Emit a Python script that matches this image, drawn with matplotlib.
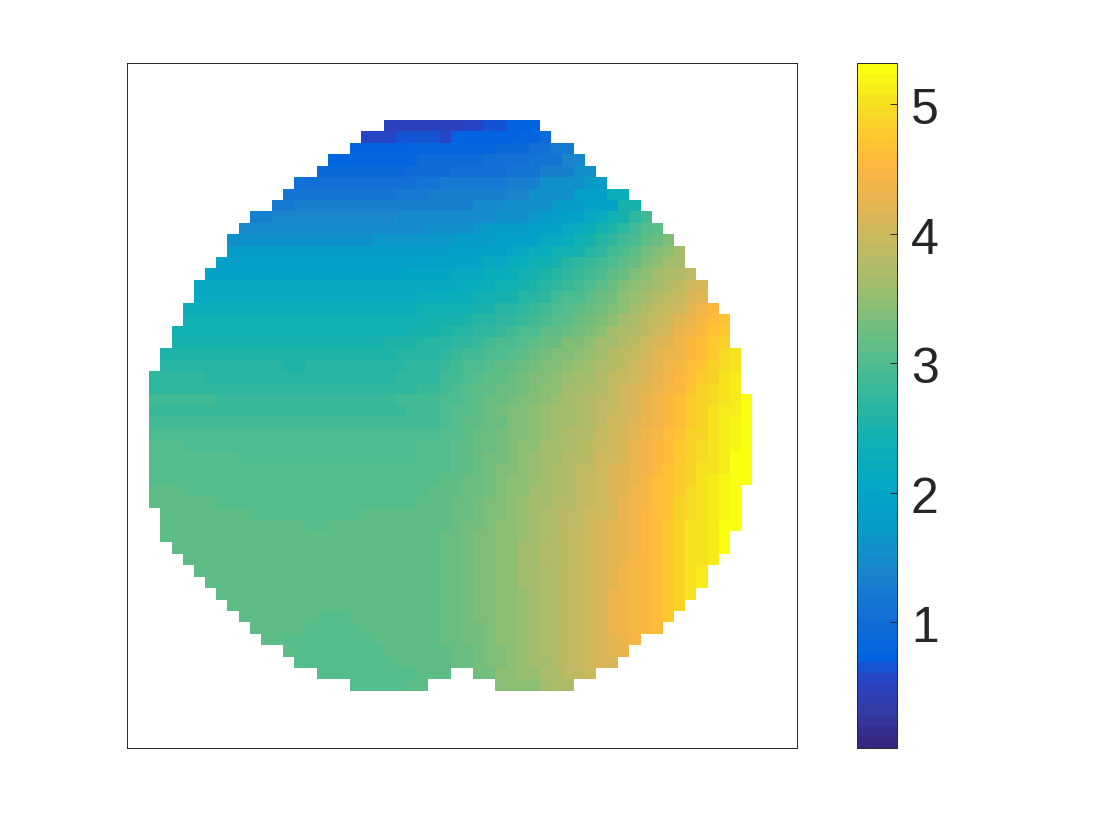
import numpy as np
import matplotlib
matplotlib.use("Agg")
import matplotlib.pyplot as plt
from matplotlib.colors import LinearSegmentedColormap
from matplotlib.transforms import ScaledTranslation

plt.rcParams["font.family"] = ["Liberation Sans", "DejaVu Sans"]

n_cells = 60
vmin = 0.03
vmax = 5.32
cbar_ticks = [1, 2, 3, 4, 5]

# first filled column of rows 5..54, counted from the top of the grid
first_row = 5
row_starts = [
    23, 21, 20, 18, 17, 15, 14, 13, 11, 10,
    9, 9, 8, 7, 6, 6, 5, 5, 4, 4,
    3, 3, 2, 2, 2, 2, 2, 2, 2, 2,
    2, 2, 2, 2, 3, 3, 3, 4, 5, 6,
    7, 8, 9, 10, 11, 12, 14, 15, 17, 20,
]

# each row as (last column of the run, value)
# from row 13 down to row 52 these stop at column 27, right_rows takes over
row_runs = [
    [(27, .45), (29, .5), (31, .6), (33, .65), (36, .75)],
    [(23, .55), (27, .62), (28, .6), (32, .7), (34, .75), (36, .85), (37, 1.0)],
    [(24, .75), (30, .78), (32, .8), (35, .9), (37, 1.05), (39, 1.2)],
    [(19, .8), (25, .85), (29, .95), (31, 1.0), (35, 1.05), (38, 1.15), (40, 1.4)],
    [(24, .9), (28, 1.0), (33, 1.1), (36, 1.15), (39, 1.3), (41, 1.55)],
    [(25, 1.1), (27, 1.15), (30, 1.2), (33, 1.25), (36, 1.35), (40, 1.55), (42, 1.75)],
    [(23, 1.15), (26, 1.25), (33, 1.3), (35, 1.4), (39, 1.6), (42, 1.85), (44, 2.3)],
    [(14, 1.2), (26, 1.3), (30, 1.35), (33, 1.45), (37, 1.55), (40, 1.75), (43, 2.0), (45, 2.45)],
    [(12, 1.35), (23, 1.4), (27, 1.45)],
    [(22, 1.45), (26, 1.5), (27, 1.55)],
    [(12, 1.55), (21, 1.6), (26, 1.65), (27, 1.65)],
    [(25, 1.8), (27, 1.82)],
    [(25, 1.9), (27, 1.95)],
    [(24, 2.0), (27, 2.05)],
    [(25, 2.1), (27, 2.15)],
    [(25, 2.15), (27, 2.2)],
    [(25, 2.3), (27, 2.35)],
    [(23, 2.35), (26, 2.4), (27, 2.45)],
    [(24, 2.42), (27, 2.5)],
    [(5, 2.45), (22, 2.5), (25, 2.55), (27, 2.6)],
    [(23, 2.55), (26, 2.6), (27, 2.65)],
    [(13, 2.6), (15, 2.55), (24, 2.6), (27, 2.68)],
    [(6, 2.7), (23, 2.65), (26, 2.72), (27, 2.75)],
    [(25, 2.75), (27, 2.8)],
    [(7, 2.85), (23, 2.8), (27, 2.85)],
    [(24, 2.82), (27, 2.88)],
    [(6, 2.9), (23, 2.85), (27, 2.92)],
    [(24, 2.95), (27, 2.98)],
    [(4, 3.02), (22, 2.95), (25, 2.98), (27, 3.02)],
    [(9, 3.02), (21, 2.98), (25, 3.0), (27, 3.02)],
    [(26, 3.02), (27, 3.05)],
    [(3, 3.08), (24, 3.02), (26, 3.05), (27, 3.08)],
    [(4, 3.1), (23, 3.02), (26, 3.08), (27, 3.1)],
    [(7, 3.1), (21, 3.02), (25, 3.08), (27, 3.1)],
    [(10, 3.1), (20, 3.05), (25, 3.1), (27, 3.12)],
    [(15, 3.1), (17, 3.02), (24, 3.1), (27, 3.15)],
    [(24, 3.1), (27, 3.15)],
    [(24, 3.1), (27, 3.15)],
    [(24, 3.1), (27, 3.15)],
    [(24, 3.1), (27, 3.15)],
    [(24, 3.1), (27, 3.15)],
    [(24, 3.1), (27, 3.15)],
    [(24, 3.1), (27, 3.15)],
    [(16, 3.1), (19, 3.05), (24, 3.1), (27, 3.15)],
    [(15, 3.1), (20, 3.05), (25, 3.1), (27, 3.15)],
    [(13, 3.1), (21, 3.05), (26, 3.1), (27, 3.15)],
    [(14, 3.1), (22, 3.05), (25, 3.1), (27, 3.15)],
    [(23, 3.05), (26, 3.1), (27, 3.15)],
    [(25, 3.05), (27, 3.1), (28, 3.15), (30, None), (32, 3.28), (34, 3.42), (36, 3.55), (38, 3.68), (40, 3.85), (41, 4.0)],
    [(24, 3.05), (26, 3.1), (32, None), (34, 3.42), (36, 3.5), (37, 3.6), (39, 3.72)],
]

# right part of rows 13..52, cell by cell from column 28
right_first_row = 13
right_first_col = 28
right_last_cols = [
    46, 47, 48, 49, 49, 50, 51, 51, 52, 53, 53, 53, 54, 54, 54, 54,
    55, 55, 55, 55, 55, 55, 55, 55,
    54, 54, 54, 54, 53, 53, 52, 51, 51, 50, 49, 48, 47, 45, 44, 43,
]
right_rows = [
    [1.5, 1.5, 1.5, 1.5, 1.5, 1.55, 1.6, 1.6, 1.65, 1.75, 1.8, 1.9, 2.0, 2.1, 2.2, 2.35, 2.5, 2.7, 2.85],
    [1.55, 1.6, 1.6, 1.65, 1.7, 1.7, 1.75, 1.8, 1.85, 1.95, 2.0, 2.1, 2.2, 2.3, 2.45, 2.55, 2.7, 2.85, 3.05, 3.15],
    [1.65, 1.7, 1.75, 1.75, 1.8, 1.85, 1.9, 1.95, 2.0, 2.1, 2.15, 2.25, 2.35, 2.45, 2.6, 2.7, 2.85, 3.0, 3.15, 3.25, 3.35],
    [1.8, 1.85, 1.85, 1.9, 1.95, 2.0, 2.05, 2.1, 2.2, 2.25, 2.35, 2.4, 2.5, 2.65, 2.75, 2.9, 3.0, 3.15, 3.3, 3.4, 3.5, 3.6],
    [1.95, 2.0, 2.0, 2.05, 2.1, 2.15, 2.2, 2.25, 2.35, 2.4, 2.5, 2.6, 2.7, 2.8, 2.9, 3.0, 3.15, 3.25, 3.4, 3.5, 3.6, 3.65],
    [2.05, 2.1, 2.1, 2.15, 2.2, 2.25, 2.3, 2.4, 2.45, 2.55, 2.6, 2.7, 2.8, 2.9, 3.0, 3.1, 3.25, 3.35, 3.5, 3.6, 3.7, 3.8, 3.9],
    [2.15, 2.15, 2.2, 2.25, 2.3, 2.35, 2.4, 2.5, 2.55, 2.65, 2.7, 2.8, 2.9, 3.0, 3.1, 3.2, 3.35, 3.45, 3.55, 3.65, 3.75, 3.85, 4.0, 4.1],
    [2.2, 2.25, 2.3, 2.35, 2.4, 2.45, 2.5, 2.6, 2.65, 2.75, 2.85, 2.95, 3.0, 3.1, 3.2, 3.3, 3.45, 3.55, 3.65, 3.75, 3.85, 3.95, 4.1, 4.2],
    [2.35, 2.4, 2.4, 2.5, 2.5, 2.6, 2.65, 2.7, 2.8, 2.85, 2.95, 3.05, 3.15, 3.2, 3.3, 3.4, 3.5, 3.65, 3.75, 3.85, 3.95, 4.05, 4.2, 4.35, 4.5],
    [2.45, 2.5, 2.55, 2.6, 2.65, 2.7, 2.75, 2.8, 2.9, 3.0, 3.05, 3.15, 3.25, 3.3, 3.4, 3.5, 3.6, 3.7, 3.85, 3.95, 4.05, 4.2, 4.3, 4.45, 4.6, 4.7],
    [2.52, 2.6, 2.65, 2.7, 2.75, 2.8, 2.85, 2.95, 3.0, 3.1, 3.15, 3.25, 3.3, 3.4, 3.5, 3.6, 3.7, 3.8, 3.9, 4.05, 4.15, 4.3, 4.4, 4.55, 4.7, 4.8],
    [2.62, 2.7, 2.75, 2.8, 2.85, 2.95, 3.0, 3.05, 3.15, 3.2, 3.25, 3.35, 3.4, 3.5, 3.6, 3.65, 3.75, 3.9, 4.0, 4.1, 4.2, 4.35, 4.5, 4.6, 4.75, 4.85],
    [2.72, 2.8, 2.85, 2.9, 2.95, 3.0, 3.05, 3.15, 3.2, 3.3, 3.35, 3.4, 3.5, 3.55, 3.65, 3.75, 3.85, 3.95, 4.05, 4.2, 4.3, 4.4, 4.55, 4.65, 4.8, 4.95, 5.0],
    [2.78, 2.85, 2.95, 3.0, 3.05, 3.1, 3.15, 3.2, 3.3, 3.35, 3.4, 3.5, 3.55, 3.6, 3.7, 3.8, 3.9, 4.0, 4.1, 4.2, 4.35, 4.45, 4.6, 4.7, 4.85, 4.95, 5.05],
    [2.85, 2.92, 3.0, 3.05, 3.1, 3.15, 3.2, 3.3, 3.35, 3.4, 3.45, 3.55, 3.6, 3.65, 3.75, 3.85, 3.95, 4.05, 4.15, 4.25, 4.4, 4.5, 4.65, 4.75, 4.9, 5.0, 5.1],
    [2.9, 2.97, 3.05, 3.1, 3.15, 3.2, 3.25, 3.3, 3.4, 3.45, 3.5, 3.6, 3.65, 3.7, 3.8, 3.9, 4.0, 4.1, 4.2, 4.3, 4.45, 4.55, 4.7, 4.85, 4.95, 5.05, 5.1],
    [2.93, 3.0, 3.05, 3.1, 3.2, 3.25, 3.3, 3.35, 3.4, 3.5, 3.55, 3.6, 3.7, 3.75, 3.85, 3.9, 4.0, 4.1, 4.25, 4.35, 4.5, 4.6, 4.75, 4.85, 4.95, 5.05, 5.15, 5.3],
    [2.97, 3.03, 3.08, 3.12, 3.2, 3.3, 3.35, 3.4, 3.45, 3.55, 3.6, 3.65, 3.7, 3.8, 3.9, 3.95, 4.05, 4.15, 4.3, 4.4, 4.5, 4.65, 4.8, 4.9, 5.0, 5.1, 5.15, 5.3],
    [3.0, 3.05, 3.1, 3.15, 3.2, 3.25, 3.35, 3.4, 3.45, 3.55, 3.6, 3.65, 3.7, 3.8, 3.9, 4.0, 4.05, 4.2, 4.3, 4.4, 4.55, 4.65, 4.8, 4.9, 5.0, 5.1, 5.2, 5.3],
    [3.02, 3.08, 3.15, 3.2, 3.2, 3.3, 3.35, 3.4, 3.5, 3.55, 3.6, 3.7, 3.75, 3.8, 3.95, 4.0, 4.1, 4.2, 4.35, 4.45, 4.6, 4.7, 4.85, 4.9, 5.0, 5.1, 5.2, 5.3],
    [3.05, 3.1, 3.15, 3.2, 3.25, 3.3, 3.35, 3.45, 3.5, 3.6, 3.65, 3.7, 3.8, 3.85, 3.95, 4.05, 4.15, 4.25, 4.35, 4.5, 4.65, 4.75, 4.85, 4.95, 5.05, 5.1, 5.2, 5.32],
    [3.05, 3.1, 3.15, 3.2, 3.3, 3.3, 3.4, 3.45, 3.55, 3.6, 3.65, 3.75, 3.8, 3.9, 4.0, 4.05, 4.15, 4.25, 4.4, 4.5, 4.65, 4.75, 4.9, 4.95, 5.05, 5.15, 5.25, 5.32],
    [3.08, 3.12, 3.17, 3.25, 3.3, 3.35, 3.4, 3.5, 3.55, 3.6, 3.7, 3.75, 3.85, 3.9, 4.0, 4.1, 4.2, 4.3, 4.4, 4.55, 4.7, 4.8, 4.9, 5.0, 5.05, 5.15, 5.25, 5.32],
    [3.1, 3.15, 3.2, 3.25, 3.3, 3.35, 3.45, 3.5, 3.55, 3.65, 3.7, 3.8, 3.85, 3.95, 4.05, 4.1, 4.2, 4.3, 4.45, 4.6, 4.7, 4.8, 4.9, 5.0, 5.1, 5.2, 5.3, 5.32],
    [3.12, 3.15, 3.2, 3.25, 3.3, 3.4, 3.45, 3.5, 3.6, 3.65, 3.7, 3.8, 3.85, 3.95, 4.05, 4.1, 4.2, 4.35, 4.45, 4.6, 4.7, 4.8, 4.95, 5.05, 5.1, 5.2, 5.3],
    [3.12, 3.2, 3.2, 3.3, 3.35, 3.4, 3.45, 3.55, 3.6, 3.65, 3.75, 3.8, 3.9, 3.95, 4.05, 4.15, 4.25, 4.35, 4.45, 4.6, 4.7, 4.85, 4.95, 5.05, 5.15, 5.2, 5.3],
    [3.15, 3.2, 3.25, 3.3, 3.35, 3.4, 3.5, 3.55, 3.6, 3.7, 3.75, 3.85, 3.9, 4.0, 4.05, 4.15, 4.3, 4.4, 4.5, 4.65, 4.7, 4.85, 4.95, 5.05, 5.15, 5.2, 5.3],
    [3.15, 3.2, 3.3, 3.3, 3.35, 3.45, 3.5, 3.55, 3.6, 3.7, 3.8, 3.85, 3.9, 4.0, 4.1, 4.2, 4.3, 4.4, 4.55, 4.65, 4.75, 4.85, 5.0, 5.05, 5.15, 5.25, 5.32],
    [3.2, 3.25, 3.3, 3.35, 3.4, 3.45, 3.5, 3.55, 3.65, 3.7, 3.8, 3.85, 3.95, 4.0, 4.1, 4.2, 4.3, 4.4, 4.55, 4.65, 4.75, 4.85, 5.0, 5.05, 5.15, 5.25],
    [3.2, 3.25, 3.3, 3.35, 3.4, 3.45, 3.5, 3.6, 3.65, 3.75, 3.8, 3.9, 3.95, 4.0, 4.1, 4.2, 4.3, 4.4, 4.55, 4.65, 4.75, 4.9, 5.0, 5.05, 5.15, 5.3],
    [3.2, 3.25, 3.3, 3.35, 3.4, 3.45, 3.5, 3.6, 3.65, 3.75, 3.8, 3.9, 3.95, 4.05, 4.15, 4.2, 4.3, 4.45, 4.55, 4.65, 4.75, 4.9, 5.0, 5.05, 5.15],
    [3.2, 3.25, 3.3, 3.35, 3.4, 3.45, 3.5, 3.6, 3.65, 3.7, 3.8, 3.9, 3.95, 4.05, 4.15, 4.2, 4.35, 4.45, 4.55, 4.65, 4.8, 4.9, 5.0, 5.1],
    [3.2, 3.25, 3.3, 3.35, 3.4, 3.45, 3.5, 3.6, 3.65, 3.7, 3.8, 3.9, 3.95, 4.05, 4.15, 4.2, 4.35, 4.45, 4.55, 4.65, 4.8, 4.9, 5.0, 5.1],
    [3.2, 3.25, 3.3, 3.35, 3.4, 3.45, 3.5, 3.55, 3.65, 3.7, 3.8, 3.9, 3.95, 4.05, 4.15, 4.25, 4.35, 4.45, 4.55, 4.65, 4.8, 4.9, 5.05],
    [3.2, 3.25, 3.3, 3.35, 3.4, 3.45, 3.5, 3.55, 3.65, 3.7, 3.8, 3.9, 3.95, 4.05, 4.15, 4.25, 4.35, 4.45, 4.55, 4.65, 4.8, 4.9],
    [3.2, 3.25, 3.3, 3.35, 3.4, 3.45, 3.5, 3.55, 3.65, 3.7, 3.8, 3.9, 3.95, 4.05, 4.15, 4.25, 4.35, 4.45, 4.55, 4.65, 4.8],
    [3.2, 3.25, 3.3, 3.3, 3.4, 3.45, 3.5, 3.55, 3.65, 3.7, 3.8, 3.85, 3.95, 4.05, 4.15, 4.25, 4.35, 4.45, 4.55, 4.65],
    [3.2, 3.2, 3.3, 3.3, 3.35, 3.45, 3.5, 3.55, 3.6, 3.7, 3.75, 3.85, 3.95, 4.05, 4.15, 4.2, 4.3, 4.45],
    [3.15, 3.2, 3.25, 3.3, 3.35, 3.4, 3.5, 3.55, 3.6, 3.7, 3.75, 3.85, 3.95, 4.0, 4.1, 4.2, 4.3],
    [3.15, 3.2, 3.25, 3.3, 3.35, 3.4, 3.45, 3.55, 3.6, 3.65, 3.75, 3.85, 3.95, 4.0, 4.1, 4.15],
]

# colours, bottom to top
cmap_values = [0.03, 0.3, 0.55, 0.7, 1.0, 1.4, 1.7, 2.0, 2.3, 2.6, 3.0, 3.3, 3.6, 4.0, 4.3, 4.6, 4.8, 5.0, 5.32]
cmap_colors = [
    (54, 38, 130), (50, 60, 170), (38, 70, 200), (0, 100, 225), (17, 110, 215),
    (25, 135, 205), (8, 155, 200), (3, 165, 200), (10, 175, 185), (35, 180, 165),
    (78, 189, 143), (115, 190, 125), (160, 190, 110), (200, 185, 95), (235, 180, 80),
    (255, 185, 60), (255, 200, 45), (245, 220, 35), (250, 255, 15),
]

nodes = [(v - vmin) / (vmax - vmin) for v in cmap_values]
colors = [tuple(c / 255 for c in rgb) for rgb in cmap_colors]
cmap = LinearSegmentedColormap.from_list("bar", list(zip(nodes, colors)), N=64)

# unpack the runs into the full grid
grid = np.full((n_cells, n_cells), np.nan)
for i, runs in enumerate(row_runs):
    col = row_starts[i]
    for last_col, value in runs:
        if value is not None:
            grid[first_row + i, col:last_col + 1] = value
        col = last_col + 1

for i, vals in enumerate(right_rows):
    assert right_first_col + len(vals) - 1 == right_last_cols[i], (right_first_row + i, len(vals))
    grid[right_first_row + i, right_first_col:right_first_col + len(vals)] = vals

W, H = 1120, 840
fig = plt.figure(figsize=(W / 100, H / 100), dpi=100)
ax = fig.add_axes([127 / W, 1 - 748 / H, 670 / W, 685 / H])
im = ax.imshow(grid, cmap=cmap, vmin=vmin, vmax=vmax, aspect="auto", interpolation="nearest")
ax.set_xticks([])
ax.set_yticks([])
for spine in ax.spines.values():
    spine.set_linewidth(0.7)
    spine.set_color("#262626")

cax = fig.add_axes([857 / W, 1 - 748 / H, 40 / W, 685 / H])
cb = fig.colorbar(im, cax=cax, ticks=cbar_ticks)
cb.outline.set_linewidth(0.7)
cb.outline.set_edgecolor("#262626")
cax.tick_params(direction="in", length=5, width=0.7, color="#262626",
                labelsize=36, labelcolor="#262626", pad=10)
# nudge the labels down a little
nudge = ScaledTranslation(0, -2 / 100, fig.dpi_scale_trans)
for label in cax.get_yticklabels():
    label.set_transform(label.get_transform() + nudge)

fig.savefig("out.png", dpi=100)
